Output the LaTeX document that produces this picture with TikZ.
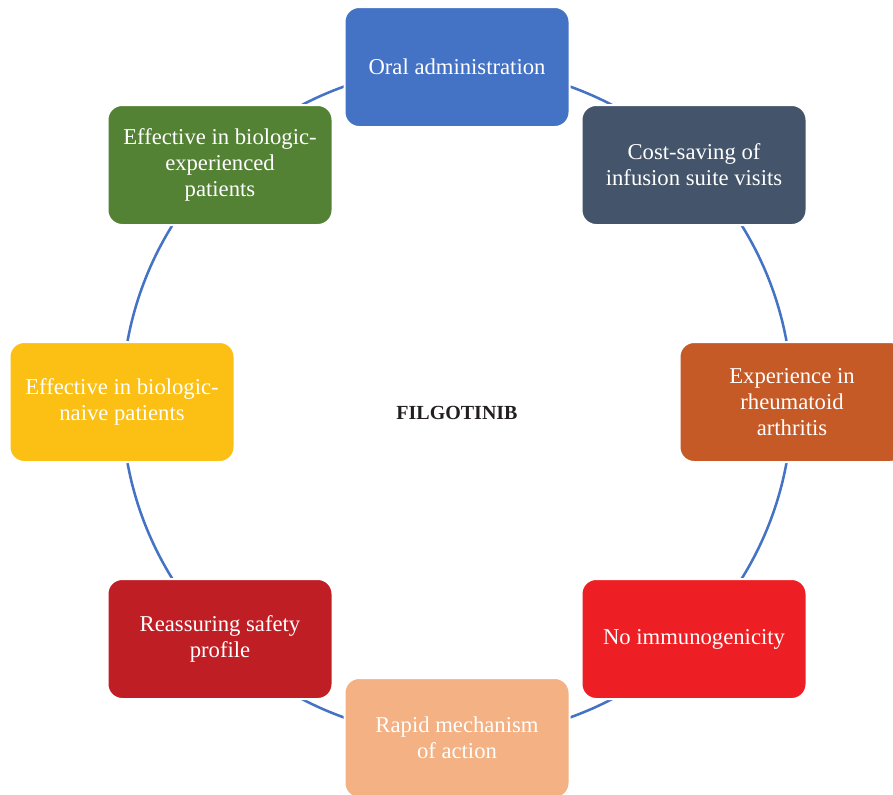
\documentclass[tikz,border=0pt]{standalone}
\usepackage{fontspec}
\setmainfont{Liberation Serif}
\definecolor{cOral}{HTML}{4472C4}
\definecolor{cCost}{HTML}{44546A}
\definecolor{cExp}{HTML}{C55A27}
\definecolor{cImm}{HTML}{EE1F24}
\definecolor{cRap}{HTML}{F4B183}
\definecolor{cSafe}{HTML}{BF1E24}
\definecolor{cNaive}{HTML}{FBC013}
\definecolor{cExpd}{HTML}{548235}
\definecolor{cRing}{HTML}{4472C4}
\definecolor{cTitle}{HTML}{231F20}
\begin{document}
\begin{tikzpicture}[x=0.75pt,y=-0.75pt,
  boxnode/.style={rounded corners=11pt, draw=white, line width=1.5pt,
    minimum width=168.75pt, minimum height=90pt, inner sep=0pt,
    text=white, align=center,
    font=\fontsize{17pt}{19.5pt}\selectfont},
  ring/.style={draw=cRing, line width=1.9pt}]
\useasboundingbox (0,0) rectangle (893,794);
\coordinate (c) at (457,402);
\draw[ring] (c) circle[radius=251.25pt];
\node[boxnode, fill=cOral] (oral) at (457,67) {Oral administration};
\node[boxnode, fill=cCost] (cost) at (694,165) {Cost-saving of\\infusion suite visits};
\node[boxnode, fill=cExp] (exp) at (792,402) {Experience in\\rheumatoid\\arthritis};
\node[boxnode, fill=cImm] (imm) at (694,639) {No immunogenicity};
\node[boxnode, fill=cRap] (rap) at (457,738) {Rapid mechanism\\of action};
\node[boxnode, fill=cSafe] (safe) at (220,639) {Reassuring safety\\profile};
\node[boxnode, fill=cNaive] (naive) at (122,402) {Effective in biologic-\\naive patients};
\node[boxnode, fill=cExpd] (expd) at (220,165) {Effective in biologic-\\experienced\\patients};
\node[text=cTitle, font=\bfseries\fontsize{15pt}{18pt}\selectfont] (title) at (457,413) {FILGOTINIB};
\end{tikzpicture}
\end{document}
